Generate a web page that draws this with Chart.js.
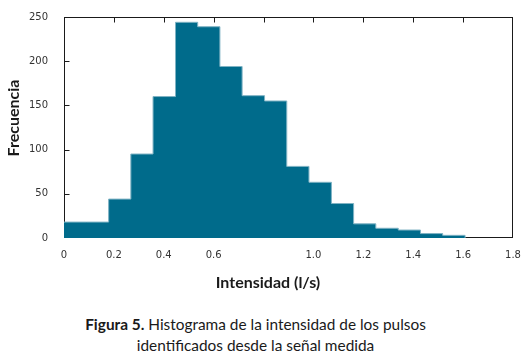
<!DOCTYPE html>
<html>
<head>
<meta charset="utf-8">
<script src="https://cdn.jsdelivr.net/npm/chart.js@4.4.1/dist/chart.umd.min.js"></script>
<style>
  html, body { margin: 0; padding: 0; background: #ffffff; }
  #wrap { position: relative; width: 532px; height: 364px; overflow: hidden; }
  #chartBox { position: absolute; left: 0; top: 0; width: 532px; height: 300px; }
  .cap { position: absolute; left: 0; width: 511px; text-align: center;
         font-family: Lato, "Open Sans", sans-serif; font-size: 15.4px; line-height: 20px; color: #1a1a1a; }
</style>
</head>
<body>
<div id="wrap">
  <div id="chartBox"><canvas id="c" width="532" height="300"></canvas></div>
  <div class="cap" style="top:314px"><b>Figura 5.</b> Histograma de la intensidad de los pulsos</div>
  <div class="cap" style="top:335px">identificados desde la señal medida</div>
</div>
<script>
// ---- data ----
const binEdges = [0, 0.089, 0.179, 0.268, 0.357, 0.447, 0.536, 0.625, 0.714, 0.804,
                  0.893, 0.982, 1.072, 1.161, 1.25, 1.34, 1.429, 1.518, 1.608];
const counts   = [18, 18, 44, 95, 160, 244, 239, 194, 161, 155,
                  81, 63, 39, 16, 11, 9, 5, 3];
const xTickLabels = ['0', '0.2', '0.4', '0.6', '', '1.0', '1.2', '1.4', '1.6', '1.8'];
const yTickValues = [0, 50, 100, 150, 200, 250];
const xTitle = 'Intensidad (l/s)';
const yTitle = 'Frecuencia';

const points = binEdges.map((e, i) => ({ x: e, y: i < counts.length ? counts[i] : 0 }));

const framePlugin = {
  id: 'frame',
  beforeDatasetsDraw(chart) {
    const { ctx, chartArea: a, scales } = chart;
    ctx.save();
    ctx.strokeStyle = '#1a1a1a';
    ctx.lineWidth = 1;
    const l = Math.round(a.left) + 0.5, t = Math.round(a.top) + 0.5;
    const r = Math.round(a.right) - 0.5, b = Math.round(a.bottom) - 0.5;
    ctx.strokeRect(l, t, r - l, b - t);
    ctx.beginPath();
    scales.x.ticks.forEach(tk => {
      const px = Math.round(scales.x.getPixelForValue(tk.value)) + 0.5;
      if (px > l + 2 && px < r - 2) { ctx.moveTo(px, t); ctx.lineTo(px, t + 5); }
    });
    scales.y.ticks.forEach(tk => {
      const py = Math.round(scales.y.getPixelForValue(tk.value)) + 0.5;
      if (py > t + 2 && py < b - 2) { ctx.moveTo(l, py); ctx.lineTo(l + 5, py); }
    });
    ctx.stroke();
    ctx.restore();
  },
  afterDraw(chart) {
    const { ctx, chartArea: a } = chart;
    ctx.save();
    ctx.fillStyle = '#1a1a1a';
    ctx.font = 'bold 16px Lato, "Open Sans", sans-serif';
    ctx.textAlign = 'center';
    ctx.textBaseline = 'middle';
    ctx.fillText(xTitle, 268, a.bottom + 45);
    ctx.translate(14, 118);
    ctx.rotate(-Math.PI / 2);
    ctx.fillText(yTitle, 0, 0);
    ctx.restore();
  }
};

new Chart(document.getElementById('c'), {
  type: 'line',
  data: {
    datasets: [{
      data: points,
      stepped: 'before',
      fill: 'origin',
      backgroundColor: '#006b8b',
      borderColor: '#7fb3c4',
      borderWidth: 1,
      pointRadius: 0,
      tension: 0
    }]
  },
  options: {
    responsive: false,
    animation: false,
    layout: { padding: { left: 0, right: 19, top: 17, bottom: 0 } },
    plugins: { legend: { display: false }, tooltip: { enabled: false } },
    scales: {
      x: {
        type: 'linear', min: 0, max: 1.8,
        grid: { display: false }, border: { display: false },
        afterFit(s) { s.height = 62; },
        ticks: {
          stepSize: 0.2, padding: 3, maxRotation: 0, autoSkip: false,
          color: '#333', font: { family: '"DejaVu Sans", Verdana, sans-serif', size: 10 },
          callback: (v, i) => xTickLabels[i]
        }
      },
      y: {
        min: 0, max: 250,
        grid: { display: false }, border: { display: false },
        afterFit(s) { s.width = 64; },
        afterBuildTicks(s) { s.ticks = yTickValues.map(v => ({ value: v })); },
        ticks: {
          padding: 8,
          color: '#333', font: { family: '"DejaVu Sans", Verdana, sans-serif', size: 10 }
        }
      }
    }
  },
  plugins: [framePlugin]
});
</script>
</body>
</html>
